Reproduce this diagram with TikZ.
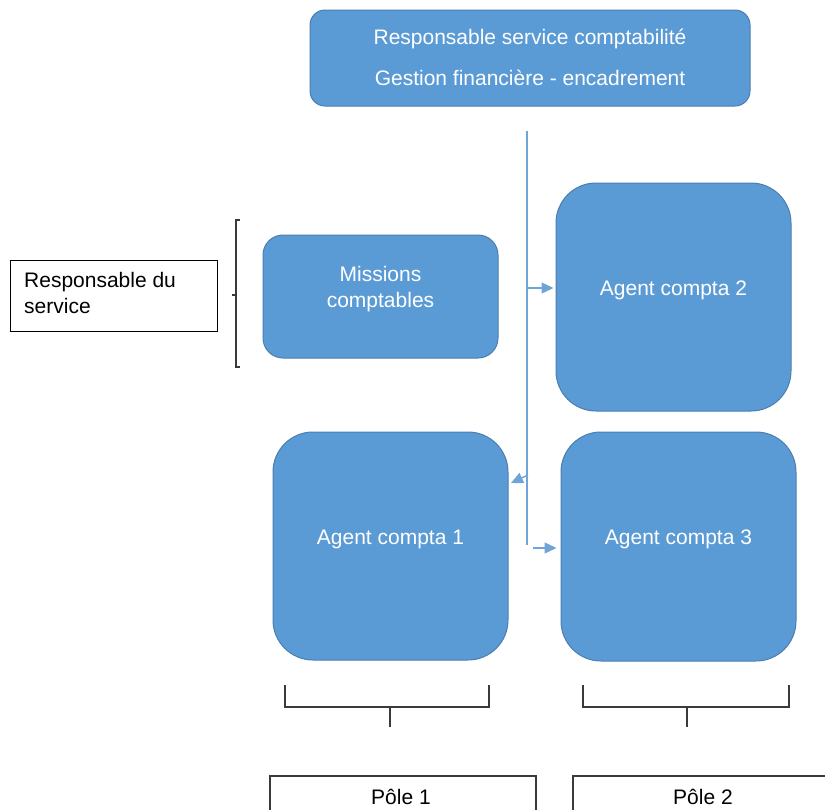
\documentclass[tikz,border=0pt]{standalone}
\usepackage{fontspec}
\setmainfont{Liberation Sans}
\usetikzlibrary{arrows.meta,calc}
\definecolor{boxfill}{HTML}{5B9BD5}
\definecolor{boxedge}{HTML}{4A7EB0}
\definecolor{linkblue}{HTML}{6FA4D8}
\definecolor{brack}{HTML}{3A3A3A}
\tikzset{
  bluebox/.style={draw=boxedge, line width=1pt, fill=boxfill, inner sep=0pt},
  whitetext/.style={text=white, font=\fontsize{21}{26}\selectfont, align=center, inner sep=0pt},
  blacktext/.style={text=black, font=\fontsize{21}{26}\selectfont, inner sep=0pt},
  framebox/.style={draw=brack, line width=1.3pt, fill=white, inner sep=0pt},
  link/.style={draw=linkblue, line width=1.4pt},
  linkarrow/.style={link, -{Triangle[length=12pt,width=11pt]}},
  bracket/.style={draw=brack, line width=1.3pt},
}
\begin{document}
\begin{tikzpicture}[x=1pt,y=-1pt]
\useasboundingbox (0,0) rectangle (825,809);
\clip (0,0) rectangle (825,809);

% header box
\node[bluebox, rounded corners=15pt, minimum width=440pt, minimum height=96pt] (top) at (530,58) {};
\node[whitetext] (toptext) at (530,57) {Responsable service comptabilité\\[15pt]Gestion financière - encadrement};

% service boxes
\node[bluebox, rounded corners=20pt, minimum width=235pt, minimum height=123pt] (mis) at (380.5,296.5) {};
\node[whitetext] (mistext) at (380.5,289) {Missions\\comptables};

\node[bluebox, rounded corners=40pt, minimum width=235pt, minimum height=228pt] (a2) at (673.5,297) {};
\node[whitetext] (a2text) at (673.5,290) {Agent compta 2};

\node[bluebox, rounded corners=40pt, minimum width=235pt, minimum height=228pt] (a1) at (390.5,546) {};
\node[whitetext] (a1text) at (390.5,539) {Agent compta 1};

\node[bluebox, rounded corners=40pt, minimum width=235pt, minimum height=229pt] (a3) at (678.5,546.5) {};
\node[whitetext] (a3text) at (678.5,539) {Agent compta 3};

% distribution line and arrows
\coordinate (vtop) at (527,131);
\coordinate (vbot) at (527,545);
\draw[link] (vtop) -- (vbot);
\coordinate (s2) at (527,288);
\draw[linkarrow, shorten >=2pt] (s2) -- (s2 -| a2.west);
\coordinate (s1) at (528,475);
\coordinate (e1) at (511,483);
\draw[linkarrow] (s1) -- (e1);
\coordinate (s3) at (533,548);
\draw[linkarrow, shorten >=4pt] (s3) -- (s3 -| a3.west);

% left label and bracket
\node[framebox, line width=1pt, draw=black, minimum width=207pt, minimum height=71pt] (resp) at (113.5,295.5) {};
\node[blacktext, anchor=west, align=left] (resptext) at (24,293) {Responsable du\\service};
\draw[bracket] (240,220) -- (236,220) -- (236,367) -- (240,367);
\draw[bracket] (236,295) -- (232,295);

% bottom brackets
\draw[bracket] (285,685) -- (285,707) -- (489,707) -- (489,685);
\draw[bracket] (390,707) -- (390,727);
\draw[bracket] (583,685) -- (583,707) -- (789,707) -- (789,685);
\draw[bracket] (687,707) -- (687,727);

% pole boxes
\node[framebox, minimum width=266pt, minimum height=40pt] (p1) at (403,796) {};
\node[blacktext] (p1text) at (401,797) {Pôle 1};
\node[framebox, minimum width=260pt, minimum height=40pt] (p2) at (703,796) {};
\node[blacktext] (p2text) at (703,797) {Pôle 2};
\end{tikzpicture}
\end{document}
